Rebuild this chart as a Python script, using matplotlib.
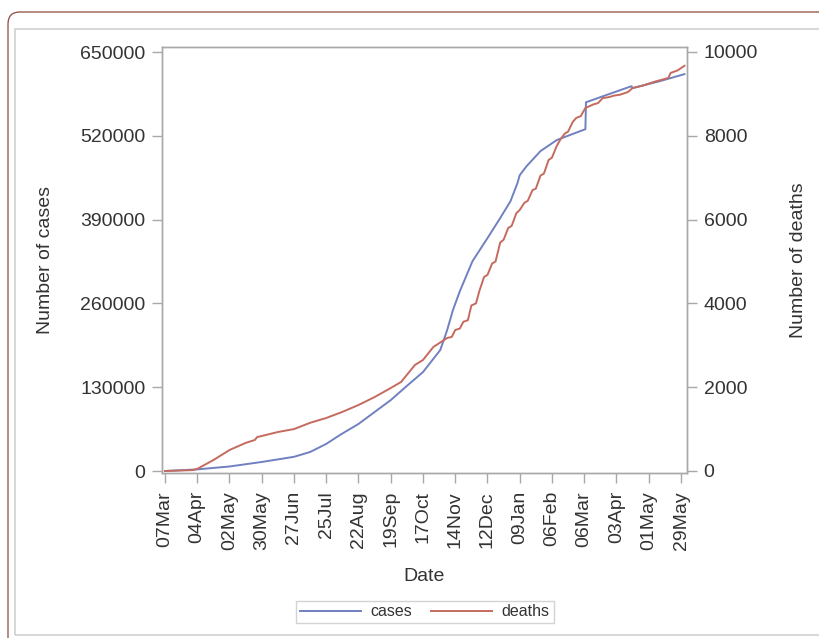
import numpy as np
import matplotlib
matplotlib.use('Agg')
import matplotlib.pyplot as plt
import matplotlib.dates as mdates
from matplotlib.patches import FancyBboxPatch, Rectangle

plt.rcParams['font.family'] = ['Liberation Sans', 'DejaVu Sans']

# Cumulative totals, day offsets counted from 07Mar2020
start = np.datetime64('2020-03-07')

case_days = [0, 28, 56, 84, 112, 126, 140, 152, 168, 182, 196, 210, 224, 239, 245,
             250, 256, 267, 280, 291, 300, 306, 308, 314, 326, 340, 349, 365, 365.5,
             378, 405, 406, 430, 451]
cases = [0, 2500, 7000, 14000, 22000, 29500, 42000, 56000, 73000, 91500, 110000,
         132000, 153500, 187700, 218700, 249700, 279000, 325600, 361300, 392300,
         418700, 446600, 459000, 473000, 496300, 513300, 519500, 530300, 572000,
         580000, 597000, 594000, 605000, 615700]

death_days = [0, 24, 28, 42, 56, 70, 78, 80, 84, 98, 112, 126, 140, 154, 168, 182,
              196, 205, 217, 224, 233, 245, 249, 252, 256, 259, 263, 266, 270, 273,
              277, 280, 284, 287, 291, 294, 298, 301, 305, 308, 312, 315, 319, 322,
              326, 329, 333, 336, 340, 343, 347, 350, 354, 357, 361, 365, 368, 372,
              376, 380, 385, 390, 395, 402, 406, 415, 425, 437, 439, 445, 451]
deaths = [0, 20, 50, 260, 500, 670, 740, 810, 835, 930, 1000, 1150, 1265, 1410, 1575,
          1765, 1980, 2125, 2530, 2650, 2960, 3175, 3200, 3365, 3400, 3560, 3600, 3950,
          4000, 4300, 4630, 4680, 4950, 5000, 5450, 5520, 5800, 5850, 6150, 6230, 6400,
          6450, 6700, 6740, 7050, 7100, 7420, 7480, 7750, 7900, 8050, 8100, 8330, 8425,
          8470, 8665, 8700, 8750, 8780, 8900, 8920, 8960, 8980, 9045, 9140, 9200, 9290,
          9380, 9500, 9560, 9670]

case_ticks = [0, 130000, 260000, 390000, 520000, 650000]
death_ticks = [0, 2000, 4000, 6000, 8000, 10000]


def to_dates(days):
    return start + (np.array(days) * 24 * 60).astype('timedelta64[m]')


case_dates = to_dates(case_days)
death_dates = to_dates(death_days)
date_ticks = start + np.arange(0, 449, 28).astype('timedelta64[D]')

blue = '#7080C0'
red = '#C46A5E'
grey_axis = '#A8A8A8'
txt = '#333333'

fig = plt.figure(figsize=(8.19, 6.38), dpi=100)

# outer frame (rounded) and inner panel border
fig.patches.append(FancyBboxPatch((0.08, -0.3), 8.6, 6.56,
                                  boxstyle='round,pad=0,rounding_size=0.12',
                                  transform=fig.dpi_scale_trans, fill=False,
                                  edgecolor='#8C4A3C', linewidth=0.9))
fig.patches.append(Rectangle((0.15, 0.03), 8.6, 6.06, transform=fig.dpi_scale_trans,
                             fill=False, edgecolor='#D4D4D4', linewidth=1.3))

ax = fig.add_axes([162 / 819, 1 - 473 / 638, 525 / 819, 426 / 638])
ax2 = ax.twinx()

l1, = ax.plot(case_dates, cases, color=blue, linewidth=1.4, label='cases')
l2, = ax2.plot(death_dates, deaths, color=red, linewidth=1.4, label='deaths')

ax.set_xlim(start - np.timedelta64(62, 'h'), start + np.timedelta64(453 * 24 + 5, 'h'))
ax.set_ylim(-3100, 657800)
ax2.set_ylim(-48, 10119)

ax.set_xticks(date_ticks)
ax.xaxis.set_major_formatter(mdates.DateFormatter('%d%b'))
ax.set_yticks(case_ticks)
ax.set_yticklabels([str(v) for v in case_ticks])
ax2.set_yticks(death_ticks)
ax2.set_yticklabels([str(v) for v in death_ticks])

for a in (ax, ax2):
    for s in a.spines.values():
        s.set_color(grey_axis)
        s.set_linewidth(1.0)
    a.tick_params(colors=grey_axis, labelcolor=txt, labelsize=14, length=7, width=1.0,
                  pad=5)

ax.tick_params(axis='x', labelrotation=90, pad=6)

ax.set_xlabel('Date', fontsize=14, color=txt, labelpad=13)
ax.set_ylabel('Number of cases', fontsize=14, color=txt, labelpad=19)
ax2.set_ylabel('Number of deaths', fontsize=14, color=txt, labelpad=23)

leg = fig.legend(handles=[l1, l2], loc='center', bbox_to_anchor=(425 / 819, 1 - 612 / 638),
                 ncol=2, fontsize=11.5, frameon=True, fancybox=False,
                 handlelength=3.8, columnspacing=1.2, handletextpad=0.6,
                 borderpad=0.25, labelcolor=txt)
leg.get_frame().set_edgecolor('#C8C8C8')
leg.get_frame().set_linewidth(1.0)

fig.savefig('out.png', dpi=100)
